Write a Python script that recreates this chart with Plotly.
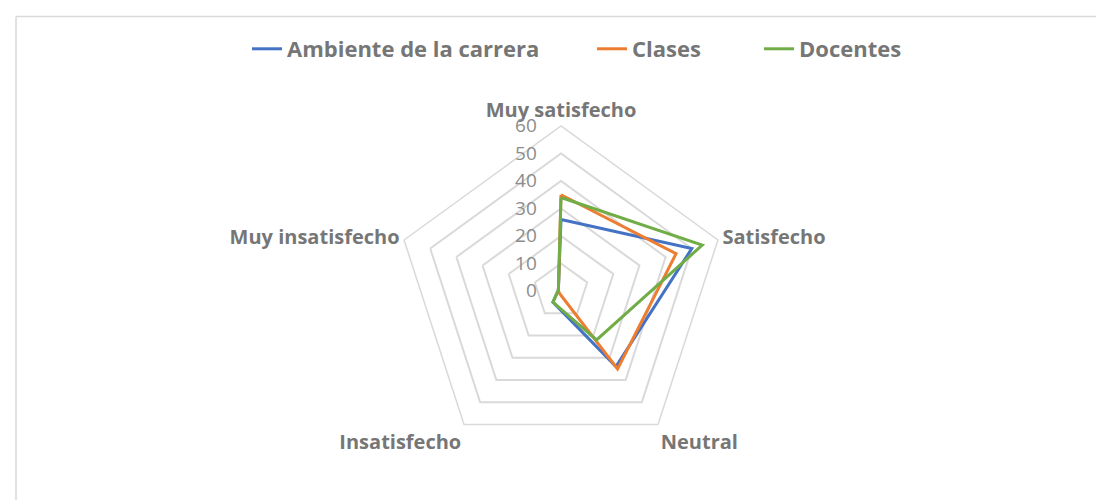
import plotly.graph_objects as go

categories = ["Muy satisfecho", "Satisfecho", "Neutral", "Insatisfecho", "Muy insatisfecho"]
ambiente = [26, 50, 34, 5, 1]
clases = [35, 44, 35, 1, 1]
docentes = [34, 54, 22, 5, 1]
series_names = ["Ambiente de la carrera", "Clases", "Docentes"]
colors = ["#4472C4", "#ED7D31", "#70AD47"]
radial_ticks = [0, 10, 20, 30, 40, 50, 60]

W, H = 1104, 500
cx, cy, R = 553, 283, 165
legend_x_px = [239, 584, 751]

fig = go.Figure()
legend_ids = ["legend", "legend2", "legend3"]
for name, vals, col, lid in zip(series_names, [ambiente, clases, docentes], colors, legend_ids):
    fig.add_trace(go.Scatterpolar(
        r=vals + vals[:1], theta=categories + categories[:1],
        mode="lines", name=name, line=dict(color=col, width=3), legend=lid))

legend_font = dict(size=22, color="#767676", family="Open Sans, sans-serif", weight="bold")
legends = {}
for lid, xp in zip(legend_ids, legend_x_px):
    legends[lid] = dict(orientation="h", x=xp / W, xanchor="left", y=1 - 20 / H, yanchor="top",
                        font=legend_font, bgcolor="rgba(0,0,0,0)", itemwidth=30)

fig.update_layout(
    width=W, height=H, margin=dict(l=0, r=0, t=0, b=0),
    paper_bgcolor="white", plot_bgcolor="white",
    font=dict(family="Open Sans, sans-serif", color="#767676"),
    showlegend=True,
    polar=dict(
        domain=dict(x=[(cx - R) / W, (cx + R) / W], y=[(H - cy - R) / H, (H - cy + R) / H]),
        bgcolor="white",
        gridshape="linear",
        angularaxis=dict(rotation=90, direction="clockwise", showgrid=False,
                         showline=True, linecolor="#d9d9d9", linewidth=1.5,
                         ticks="", tickfont=dict(size=20, color="#767676", weight="bold")),
        radialaxis=dict(range=[0, 60], tickvals=radial_ticks, angle=90, tickangle=90,
                        showline=False, gridcolor="#d9d9d9", gridwidth=1.5,
                        ticks="outside", ticklen=17, tickcolor="rgba(0,0,0,0)",
                        side="counterclockwise",
                        tickfont=dict(size=19, color="#8c8c8c")),
    ),
    shapes=[
        dict(type="line", xref="paper", yref="paper", x0=8 / W, x1=1.0, y0=1 - 8.5 / H, y1=1 - 8.5 / H,
             line=dict(color="#d9d9d9", width=1.5)),
        dict(type="line", xref="paper", yref="paper", x0=8 / W, x1=8 / W, y0=0, y1=1 - 8.5 / H,
             line=dict(color="#d9d9d9", width=1.5)),
    ],
    **legends,
)

fig.write_html("out.html")
